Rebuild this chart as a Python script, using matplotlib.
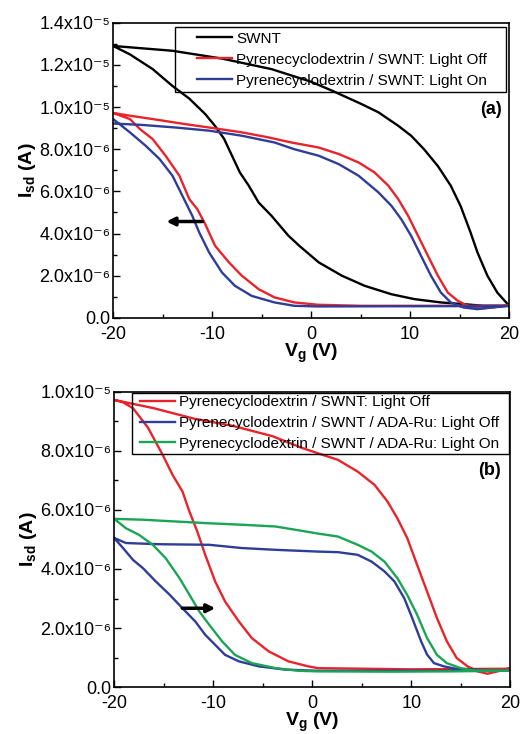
import numpy as np
import matplotlib.pyplot as plt
from matplotlib.patches import Rectangle
from matplotlib.ticker import FixedLocator, FixedFormatter, MultipleLocator

plt.rcParams['font.family'] = ['Liberation Sans', 'DejaVu Sans']
plt.rcParams['mathtext.fontset'] = 'custom'
plt.rcParams['mathtext.rm'] = 'Liberation Sans'
plt.rcParams['mathtext.it'] = 'Liberation Sans:italic'
plt.rcParams['mathtext.bf'] = 'Liberation Sans:bold'
plt.rcParams['mathtext.default'] = 'regular'
plt.rcParams['axes.unicode_minus'] = False

# ---- panel (a) data, Isd in units of 1e-6 A ----
# each loop: the branch that drops early (low) and the branch that stays high (high)
swnt_low_v = [-20, -18.3, -16, -14, -12.3, -10.7, -9.7, -8.8, -8, -7.2, -6.3, -5.3, -4, -2.3, -1.2,
              0.77, 3.1, 5.4, 8.1, 10.4, 13.1, 15.4, 17.4, 20]
swnt_low_i = [12.9, 12.5, 11.8, 11.0, 10.4, 9.67, 9.1, 8.5, 7.7, 6.9, 6.27, 5.47, 4.84, 3.9, 3.42,
              2.63, 2.0, 1.52, 1.12, 0.89, 0.73, 0.65, 0.57, 0.57]
swnt_high_v = [-20, -14, -9, -4, 0, 2.1, 5.1, 6.8, 8.8, 10.1, 11.4, 12.8, 14.1, 15.1, 16.1, 16.8,
               17.8, 18.8, 20]
swnt_high_i = [12.9, 12.67, 12.3, 11.8, 11.2, 10.78, 10.14, 9.75, 9.11, 8.64, 8.0, 7.2, 6.27, 5.3,
               4.05, 3.1, 2.0, 1.2, 0.57]

reda_low_v = [-20, -18.3, -17.3, -16, -14.7, -13.3, -12.3, -11.5, -10.7, -9.7, -8.3, -7, -5.3,
              -3.7, -1.7, 0.67, 5, 10, 15, 20]
reda_low_i = [9.72, 9.43, 8.96, 8.48, 7.69, 6.74, 5.63, 5.16, 4.45, 3.42, 2.63, 2.0, 1.36,
              0.97, 0.73, 0.62, 0.57, 0.57, 0.57, 0.58]
reda_high_v = [-20, -18.3, -16, -12.7, -10.3, -7, -4.3, -2, 0.77, 2.8, 4.8, 6.4, 7.8, 8.8, 9.8,
               10.8, 11.8, 12.8, 13.8, 14.8, 15.8, 17.1, 18.4, 20]
reda_high_i = [9.72, 9.59, 9.43, 9.19, 9.03, 8.8, 8.56, 8.32, 8.08, 7.77, 7.37, 6.9, 6.27, 5.63,
               4.84, 3.89, 2.94, 2.0, 1.2, 0.81, 0.57, 0.44, 0.49, 0.6]

bluea_low_v = [-20, -18.3, -16.7, -15.3, -14, -13, -12, -11.3, -10.3, -9, -7.7, -6, -3.7, -1.7,
               0.67, 10, 20]
bluea_low_i = [9.43, 8.8, 8.16, 7.53, 6.74, 5.79, 4.84, 4.05, 3.1, 2.15, 1.52, 1.04, 0.73, 0.57,
               0.54, 0.55, 0.56]
bluea_high_v = [-20, -17, -13.7, -10.3, -7, -3.7, -1.7, 0.77, 2.8, 4.8, 6.8, 8.1, 9.1, 10.1,
                11.1, 12.1, 13.1, 14.1, 15.4, 16.8, 18.1, 20]
bluea_high_i = [9.22, 9.15, 9.03, 8.88, 8.64, 8.32, 8.0, 7.69, 7.29, 6.74, 5.95, 5.32, 4.68, 3.89,
                2.94, 2.0, 1.2, 0.73, 0.49, 0.41, 0.49, 0.57]

# ---- panel (b) data ----
redb_low_v = [-20, -19.1, -18.1, -16.6, -15.1, -14.1, -13.1, -12.4, -11.6, -10.8, -9.8, -8.8,
              -7.4, -6.1, -4.4, -2.4, -0.4, 0.6, 10, 20]
redb_low_i = [9.73, 9.65, 9.45, 8.8, 7.87, 7.19, 6.63, 5.95, 5.27, 4.48, 3.58, 2.9,
              2.22, 1.66, 1.21, 0.87, 0.7, 0.64, 0.6, 0.62]
redb_high_v = [-20, -16, -12, -8, -4, -1, 0.6, 2.6, 4.6, 6.3, 7.6, 8.6, 9.6, 10.6, 11.6, 12.6,
               13.6, 14.6, 15.7, 16.7, 17.7, 18.7, 20]
redb_high_i = [9.73, 9.45, 9.1, 8.85, 8.5, 8.1, 7.92, 7.7, 7.3, 6.85, 6.29, 5.72, 5.05, 4.14,
               3.24, 2.34, 1.55, 0.98, 0.7, 0.53, 0.45, 0.53, 0.64]

blueb_low_v = [-20, -19.1, -18.1, -17.1, -15.8, -14.4, -13.1, -11.8, -10.8, -9.8, -8.8, -7.4,
               -5.4, -2.7, 0.6, 10, 20]
blueb_low_i = [5.05, 4.71, 4.31, 4.03, 3.58, 3.13, 2.67, 2.22, 1.77, 1.43, 1.09, 0.87,
               0.7, 0.59, 0.55, 0.55, 0.55]
blueb_high_v = [-20, -18.8, -15.5, -10.4, -7.1, -3.7, 0.6, 2.6, 4.6, 6, 7.3, 8.3, 9.3, 10.1, 11,
                11.6, 12.3, 13.3, 14.6, 16.3, 20]
blueb_high_i = [5.05, 4.88, 4.84, 4.82, 4.71, 4.65, 4.59, 4.57, 4.48, 4.25, 3.92, 3.58, 3.01,
                2.34, 1.55, 1.1, 0.81, 0.7, 0.61, 0.59, 0.55]

greenb_low_v = [-20, -18.8, -17.5, -16.1, -14.8, -13.4, -12.4, -11.4, -10.4, -9.1, -7.8, -6.1,
                -3.7, -1.4, 0.6, 8, 14, 20]
greenb_low_i = [5.7, 5.38, 5.16, 4.82, 4.37, 3.69, 3.13, 2.56, 2.11, 1.55, 1.09, 0.81,
                0.64, 0.55, 0.53, 0.52, 0.53, 0.55]
greenb_high_v = [-20, -17.1, -13.8, -10.4, -7.1, -3.7, -1.7, 0.6, 2.6, 4.6, 6, 7.3, 8.6, 9.6,
                 10.6, 11.6, 12.6, 13.6, 15, 16.3, 20]
greenb_high_i = [5.7, 5.67, 5.61, 5.55, 5.5, 5.44, 5.33, 5.2, 5.1, 4.82, 4.59, 4.25, 3.69, 3.12,
                 2.45, 1.66, 1.09, 0.81, 0.64, 0.56, 0.55]

RED = '#e8232a'
BLUE = '#2e3d98'
GREEN = '#1aa555'


def loop(ax, lv, li, hv, hi, color, label):
    v = list(lv) + list(hv[::-1])
    i = np.array(list(li) + list(hi[::-1])) * 1e-6
    ax.plot(v, i, color=color, lw=1.7, label=label, solid_joinstyle='round')


def style(ax, ymax):
    ax.set_xlim(-20, 20)
    ax.set_ylim(0, ymax * 1e-6)
    ax.xaxis.set_major_locator(FixedLocator([-20, -10, 0, 10, 20]))
    ax.xaxis.set_minor_locator(MultipleLocator(5))
    yt = np.arange(0, ymax + 0.1, 2)
    labels = []
    for y in yt:
        if y == 0:
            labels.append('0.0')
        elif y < 10:
            labels.append('%.1fx10\u207b\u2076' % y)
        else:
            labels.append('%.1fx10\u207b\u2075' % (y / 10))
    ax.yaxis.set_major_locator(FixedLocator(yt * 1e-6))
    ax.yaxis.set_major_formatter(FixedFormatter(labels))
    ax.yaxis.set_minor_locator(MultipleLocator(1e-6))
    ax.tick_params(which='both', direction='in', top=False, right=False, labelsize=13)
    ax.tick_params(axis='y', pad=2)
    ax.tick_params(axis='x', pad=6)
    ax.tick_params(which='major', length=5, width=1)
    ax.tick_params(which='minor', length=3, width=1)
    ax.set_xlabel(r'$\mathbf{V_g}$ (V)', fontsize=14, fontweight='bold', labelpad=-1)
    ax.set_ylabel(r'$\mathbf{I_{sd}}$ (A)', fontsize=14, fontweight='bold', labelpad=1)
    for s in ax.spines.values():
        s.set_linewidth(1.2)


def legend_box(ax, hx, cy, box):
    ax.legend(loc='center left', bbox_to_anchor=(hx, cy), fontsize=11, frameon=False,
              borderpad=0, borderaxespad=0, handlelength=2.3, handletextpad=0.25,
              labelspacing=0.45)
    x0, y0, x1, y1 = box
    ax.add_patch(Rectangle((x0, y0), x1 - x0, y1 - y0, transform=ax.transAxes,
                           fill=False, edgecolor='black', lw=1.0, zorder=5))


fig = plt.figure(figsize=(5.26, 7.34), dpi=100)
ax1 = fig.add_axes([0.215, 0.567, 0.753, 0.402])
ax2 = fig.add_axes([0.217, 0.064, 0.753, 0.402])

loop(ax1, swnt_low_v, swnt_low_i, swnt_high_v, swnt_high_i, 'black', 'SWNT')
loop(ax1, reda_low_v, reda_low_i, reda_high_v, reda_high_i, RED, 'Pyrenecyclodextrin / SWNT: Light Off')
loop(ax1, bluea_low_v, bluea_low_i, bluea_high_v, bluea_high_i, BLUE, 'Pyrenecyclodextrin / SWNT: Light On')
ax1.annotate('', xy=(-14.9, 4.57e-6), xytext=(-10.7, 4.57e-6),
             arrowprops=dict(arrowstyle='-|>', color='black', lw=2.5, mutation_scale=12))
style(ax1, 14)
legend_box(ax1, 0.212, 0.875, (0.157, 0.766, 0.992, 0.986))
ax1.text(0.982, 0.705, '(a)', transform=ax1.transAxes, ha='right', va='center',
         fontsize=13, fontweight='bold')

loop(ax2, redb_low_v, redb_low_i, redb_high_v, redb_high_i, RED, 'Pyrenecyclodextrin / SWNT: Light Off')
loop(ax2, blueb_low_v, blueb_low_i, blueb_high_v, blueb_high_i, BLUE, 'Pyrenecyclodextrin / SWNT / ADA-Ru: Light Off')
loop(ax2, greenb_low_v, greenb_low_i, greenb_high_v, greenb_high_i, GREEN, 'Pyrenecyclodextrin / SWNT / ADA-Ru: Light On')
ax2.annotate('', xy=(-9.5, 2.67e-6), xytext=(-13.4, 2.67e-6),
             arrowprops=dict(arrowstyle='-|>', color='black', lw=2.5, mutation_scale=12))
style(ax2, 10)
legend_box(ax2, 0.066, 0.895, (0.045, 0.79, 0.997, 0.997))
ax2.text(0.977, 0.735, '(b)', transform=ax2.transAxes, ha='right', va='center',
         fontsize=13, fontweight='bold')

fig.savefig('out.png', dpi=100)
